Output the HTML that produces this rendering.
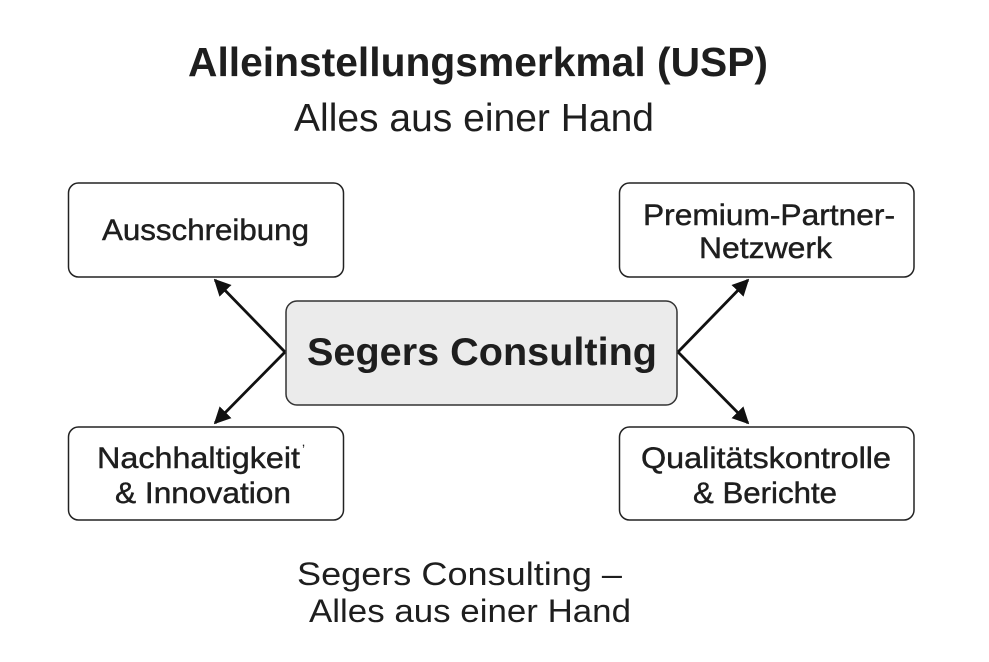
<!DOCTYPE html>
<html>
<head>
<meta charset="utf-8">
<style>
  html, body { margin: 0; padding: 0; background: #ffffff; }
  body { width: 989px; height: 662px; overflow: hidden; }
  svg { display: block; }
  text { font-family: "Liberation Sans", "DejaVu Sans", sans-serif; fill: #1e1e1e; }
  .med { stroke: #1e1e1e; stroke-width: 0.45; }
</style>
</head>
<body>
<svg width="989" height="662" viewBox="0 0 989 662" xmlns="http://www.w3.org/2000/svg">
  <defs>
    <marker id="ah" viewBox="0 0 10 10" refX="9" refY="5" markerWidth="6" markerHeight="6" markerUnits="strokeWidth" orient="auto">
      <path d="M0,0 L10,5 L0,10 Z" fill="#111"/>
    </marker>
  </defs>

  <!-- Title -->
  <text x="478" y="76" font-size="41" font-weight="bold" text-anchor="middle" textLength="580" lengthAdjust="spacingAndGlyphs">Alleinstellungsmerkmal (USP)</text>
  <text x="474" y="131" font-size="39" text-anchor="middle" textLength="360" lengthAdjust="spacingAndGlyphs">Alles aus einer Hand</text>

  <!-- Boxes -->
  <rect x="68.5" y="183" width="275" height="94" rx="10" ry="10" fill="#fff" stroke="#222" stroke-width="1.5"/>
  <rect x="68.5" y="427" width="275" height="93" rx="10" ry="10" fill="#fff" stroke="#222" stroke-width="1.5"/>
  <rect x="619.5" y="183" width="294.5" height="94" rx="10" ry="10" fill="#fff" stroke="#222" stroke-width="1.5"/>
  <rect x="619.5" y="427" width="294.5" height="93" rx="10" ry="10" fill="#fff" stroke="#222" stroke-width="1.5"/>
  <rect x="286" y="301" width="391" height="104" rx="11" ry="11" fill="#ebebeb" stroke="#333" stroke-width="1.5"/>

  <!-- Arrows -->
  <line x1="285" y1="352" x2="215" y2="280" stroke="#111" stroke-width="2.8" marker-end="url(#ah)"/>
  <line x1="285" y1="352" x2="215" y2="423" stroke="#111" stroke-width="2.8" marker-end="url(#ah)"/>
  <line x1="678" y1="352" x2="748" y2="280" stroke="#111" stroke-width="2.8" marker-end="url(#ah)"/>
  <line x1="678" y1="352" x2="748" y2="423" stroke="#111" stroke-width="2.8" marker-end="url(#ah)"/>

  <!-- Box labels -->
  <text class="med" x="205.5" y="240" font-size="30" text-anchor="middle" textLength="207" lengthAdjust="spacingAndGlyphs">Ausschreibung</text>

  <text class="med" x="198.5" y="468" font-size="30" text-anchor="middle" textLength="203" lengthAdjust="spacingAndGlyphs">Nachhaltigkeit</text>
  <text x="302" y="455" font-size="14" fill="#444">ʼ</text>
  <text class="med" x="203" y="503" font-size="30" text-anchor="middle" textLength="176" lengthAdjust="spacingAndGlyphs">&amp; Innovation</text>

  <text class="med" x="769" y="225" font-size="30" text-anchor="middle" textLength="252" lengthAdjust="spacingAndGlyphs">Premium-Partner-</text>
  <text class="med" x="765.5" y="258" font-size="30" text-anchor="middle" textLength="133" lengthAdjust="spacingAndGlyphs">Netzwerk</text>

  <text class="med" x="766" y="468" font-size="30" text-anchor="middle" textLength="250" lengthAdjust="spacingAndGlyphs">Qualitätskontrolle</text>
  <text class="med" x="765" y="503" font-size="30" text-anchor="middle" textLength="144" lengthAdjust="spacingAndGlyphs">&amp; Berichte</text>

  <!-- Center label -->
  <text x="482" y="365" font-size="39" font-weight="bold" text-anchor="middle" textLength="350" lengthAdjust="spacingAndGlyphs">Segers Consulting</text>

  <!-- Footer -->
  <text x="459.5" y="585" font-size="32" text-anchor="middle" textLength="325" lengthAdjust="spacingAndGlyphs">Segers Consulting –</text>
  <text x="470" y="622" font-size="32" text-anchor="middle" textLength="322" lengthAdjust="spacingAndGlyphs">Alles aus einer Hand</text>
</svg>
</body>
</html>
